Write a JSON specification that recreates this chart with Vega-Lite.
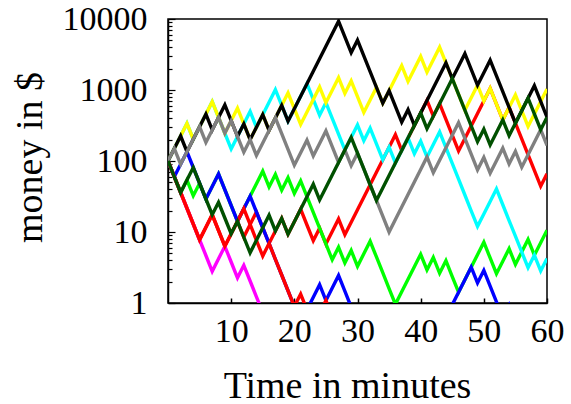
{
  "$schema": "https://vega.github.io/schema/vega-lite/v6.json",
  "width": 379,
  "height": 284,
  "autosize": {"type": "none"},
  "padding": {"left": 168, "top": 19, "right": 24, "bottom": 101},
  "background": "white",
  "config": {
    "view": {"stroke": "black", "strokeWidth": 1.5},
    "font": "Liberation Serif",
    "axis": {"grid": false, "domainColor": "black", "tickColor": "black", "labelColor": "black", "titleColor": "black", "labelFont": "Liberation Serif", "titleFont": "Liberation Serif", "labelFontSize": 34, "titleFontSize": 38, "titleFontWeight": "normal", "labelFlush": false, "labelOverlap": false}
  },
  "data": {"values": [
    {"s":"r2","t":0,"v":100},{"s":"r2","t":1,"v":60},{"s":"r2","t":2,"v":36},{"s":"r2","t":3,"v":21.6},{"s":"r2","t":4,"v":12.96},{"s":"r2","t":5,"v":7.776},{"s":"r2","t":6,"v":11.66},{"s":"r2","t":7,"v":17.5},{"s":"r2","t":8,"v":10.5},{"s":"r2","t":9,"v":6.3},{"s":"r2","t":10,"v":9.45},{"s":"r2","t":11,"v":14.17},{"s":"r2","t":12,"v":8.5},{"s":"r2","t":13,"v":12.76},{"s":"r2","t":14,"v":19.13},{"s":"r2","t":15,"v":11.48},{"s":"r2","t":16,"v":6.89},{"s":"r2","t":17,"v":10.33},{"s":"r2","t":18,"v":15.5},{"s":"r2","t":19,"v":9.3},{"s":"r2","t":20,"v":13.95},{"s":"r2","t":21,"v":20.92},{"s":"r2","t":22,"v":12.55},{"s":"r2","t":23,"v":7.53},{"s":"r2","t":24,"v":11.3},{"s":"r2","t":25,"v":6.78},{"s":"r2","t":26,"v":10.17},{"s":"r2","t":27,"v":15.25},{"s":"r2","t":28,"v":9.15},{"s":"r2","t":29,"v":13.73},{"s":"r2","t":30,"v":20.59},{"s":"r2","t":31,"v":30.89},{"s":"r2","t":32,"v":46.33},{"s":"r2","t":33,"v":69.5},{"s":"r2","t":34,"v":104.2},{"s":"r2","t":35,"v":156.4},{"s":"r2","t":36,"v":234.6},{"s":"r2","t":37,"v":140.7},{"s":"r2","t":38,"v":211.1},{"s":"r2","t":39,"v":316.7},{"s":"r2","t":40,"v":475},{"s":"r2","t":41,"v":712.5},{"s":"r2","t":42,"v":427.5},{"s":"r2","t":43,"v":641.2},{"s":"r2","t":44,"v":384.7},{"s":"r2","t":45,"v":230.8},{"s":"r2","t":46,"v":138.5},{"s":"r2","t":47,"v":207.8},{"s":"r2","t":48,"v":311.7},{"s":"r2","t":49,"v":467.5},{"s":"r2","t":50,"v":701.2},{"s":"r2","t":51,"v":1051.8},{"s":"r2","t":52,"v":631.1},{"s":"r2","t":53,"v":378.7},{"s":"r2","t":54,"v":568},{"s":"r2","t":55,"v":340.8},{"s":"r2","t":56,"v":204.5},{"s":"r2","t":57,"v":122.7},{"s":"r2","t":58,"v":73.6},{"s":"r2","t":59,"v":44.2},{"s":"r2","t":60,"v":66.3},
    {"s":"g","t":0,"v":100},{"s":"g","t":1,"v":60},{"s":"g","t":2,"v":36},{"s":"g","t":3,"v":54},{"s":"g","t":4,"v":32.4},{"s":"g","t":5,"v":48.6},{"s":"g","t":6,"v":29.16},{"s":"g","t":7,"v":43.74},{"s":"g","t":8,"v":65.61},{"s":"g","t":9,"v":39.37},{"s":"g","t":10,"v":23.62},{"s":"g","t":11,"v":14.17},{"s":"g","t":12,"v":21.26},{"s":"g","t":13,"v":31.89},{"s":"g","t":14,"v":47.83},{"s":"g","t":15,"v":71.75},{"s":"g","t":16,"v":43.05},{"s":"g","t":17,"v":64.57},{"s":"g","t":18,"v":38.74},{"s":"g","t":19,"v":58.12},{"s":"g","t":20,"v":34.87},{"s":"g","t":21,"v":52.3},{"s":"g","t":22,"v":31.38},{"s":"g","t":23,"v":18.83},{"s":"g","t":24,"v":11.3},{"s":"g","t":25,"v":6.78},{"s":"g","t":26,"v":4.07},{"s":"g","t":27,"v":6.1},{"s":"g","t":28,"v":3.66},{"s":"g","t":29,"v":5.49},{"s":"g","t":30,"v":3.29},{"s":"g","t":31,"v":4.94},{"s":"g","t":32,"v":7.41},{"s":"g","t":33,"v":4.45},{"s":"g","t":34,"v":2.67},{"s":"g","t":35,"v":1.6},{"s":"g","t":36,"v":0.96},{"s":"g","t":37,"v":1.44},{"s":"g","t":38,"v":2.16},{"s":"g","t":39,"v":3.24},{"s":"g","t":40,"v":4.86},{"s":"g","t":41,"v":2.92},{"s":"g","t":42,"v":4.38},{"s":"g","t":43,"v":2.63},{"s":"g","t":44,"v":3.94},{"s":"g","t":45,"v":2.36},{"s":"g","t":46,"v":1.42},{"s":"g","t":47,"v":2.13},{"s":"g","t":48,"v":3.19},{"s":"g","t":49,"v":4.79},{"s":"g","t":50,"v":7.18},{"s":"g","t":51,"v":4.31},{"s":"g","t":52,"v":2.59},{"s":"g","t":53,"v":3.88},{"s":"g","t":54,"v":5.82},{"s":"g","t":55,"v":3.49},{"s":"g","t":56,"v":5.24},{"s":"g","t":57,"v":7.86},{"s":"g","t":58,"v":4.72},{"s":"g","t":59,"v":7.07},{"s":"g","t":60,"v":10.61},
    {"s":"b","t":0,"v":100},{"s":"b","t":1,"v":60},{"s":"b","t":2,"v":90},{"s":"b","t":3,"v":135},{"s":"b","t":4,"v":81},{"s":"b","t":5,"v":48.6},{"s":"b","t":6,"v":29.16},{"s":"b","t":7,"v":43.74},{"s":"b","t":8,"v":65.61},{"s":"b","t":9,"v":39.37},{"s":"b","t":10,"v":23.62},{"s":"b","t":11,"v":14.17},{"s":"b","t":12,"v":21.26},{"s":"b","t":13,"v":31.89},{"s":"b","t":14,"v":19.13},{"s":"b","t":15,"v":11.48},{"s":"b","t":16,"v":6.89},{"s":"b","t":17,"v":4.13},{"s":"b","t":18,"v":2.48},{"s":"b","t":19,"v":1.488},{"s":"b","t":20,"v":0.893},{"s":"b","t":21,"v":0.536},{"s":"b","t":22,"v":0.804},{"s":"b","t":23,"v":1.205},{"s":"b","t":24,"v":1.808},{"s":"b","t":25,"v":1.085},{"s":"b","t":26,"v":1.628},{"s":"b","t":27,"v":2.441},{"s":"b","t":28,"v":1.465},{"s":"b","t":29,"v":0.879},{"s":"b","t":30,"v":0.527},{"s":"b","t":31,"v":0.316},{"s":"b","t":32,"v":0.475},{"s":"b","t":33,"v":0.285},{"s":"b","t":34,"v":0.427},{"s":"b","t":35,"v":0.641},{"s":"b","t":36,"v":0.385},{"s":"b","t":37,"v":0.577},{"s":"b","t":38,"v":0.865},{"s":"b","t":39,"v":0.519},{"s":"b","t":40,"v":0.779},{"s":"b","t":41,"v":0.467},{"s":"b","t":42,"v":0.701},{"s":"b","t":43,"v":0.42},{"s":"b","t":44,"v":0.631},{"s":"b","t":45,"v":0.946},{"s":"b","t":46,"v":1.419},{"s":"b","t":47,"v":2.129},{"s":"b","t":48,"v":3.193},{"s":"b","t":49,"v":1.916},{"s":"b","t":50,"v":2.874},{"s":"b","t":51,"v":1.724},{"s":"b","t":52,"v":1.035},{"s":"b","t":53,"v":0.621},{"s":"b","t":54,"v":0.931},{"s":"b","t":55,"v":0.559},{"s":"b","t":56,"v":0.838},{"s":"b","t":57,"v":0.503},{"s":"b","t":58,"v":0.302},{"s":"b","t":59,"v":0.453},{"s":"b","t":60,"v":0.272},
    {"s":"m","t":0,"v":100},{"s":"m","t":1,"v":60},{"s":"m","t":2,"v":36},{"s":"m","t":3,"v":21.6},{"s":"m","t":4,"v":12.96},{"s":"m","t":5,"v":7.776},{"s":"m","t":6,"v":4.666},{"s":"m","t":7,"v":2.799},{"s":"m","t":8,"v":4.199},{"s":"m","t":9,"v":6.298},{"s":"m","t":10,"v":3.779},{"s":"m","t":11,"v":2.267},{"s":"m","t":12,"v":3.401},{"s":"m","t":13,"v":2.041},{"s":"m","t":14,"v":1.224},{"s":"m","t":15,"v":0.735},{"s":"m","t":16,"v":0.441},
    {"s":"c","t":0,"v":100},{"s":"c","t":1,"v":150},{"s":"c","t":2,"v":225},{"s":"c","t":3,"v":337.5},{"s":"c","t":4,"v":202.5},{"s":"c","t":5,"v":303.75},{"s":"c","t":6,"v":455.6},{"s":"c","t":7,"v":683.4},{"s":"c","t":8,"v":410.1},{"s":"c","t":9,"v":246},{"s":"c","t":10,"v":147.6},{"s":"c","t":11,"v":221.4},{"s":"c","t":12,"v":332.2},{"s":"c","t":13,"v":498.2},{"s":"c","t":14,"v":298.9},{"s":"c","t":15,"v":448.4},{"s":"c","t":16,"v":672.6},{"s":"c","t":17,"v":1008.9},{"s":"c","t":18,"v":605.3},{"s":"c","t":19,"v":363.2},{"s":"c","t":20,"v":544.8},{"s":"c","t":21,"v":817.2},{"s":"c","t":22,"v":1225.7},{"s":"c","t":23,"v":735.4},{"s":"c","t":24,"v":441.3},{"s":"c","t":25,"v":661.9},{"s":"c","t":26,"v":397.1},{"s":"c","t":27,"v":238.3},{"s":"c","t":28,"v":143},{"s":"c","t":29,"v":214.5},{"s":"c","t":30,"v":321.7},{"s":"c","t":31,"v":193},{"s":"c","t":32,"v":289.6},{"s":"c","t":33,"v":173.7},{"s":"c","t":34,"v":104.2},{"s":"c","t":35,"v":156.4},{"s":"c","t":36,"v":93.8},{"s":"c","t":37,"v":140.7},{"s":"c","t":38,"v":211.1},{"s":"c","t":39,"v":126.7},{"s":"c","t":40,"v":190},{"s":"c","t":41,"v":114},{"s":"c","t":42,"v":171},{"s":"c","t":43,"v":256.5},{"s":"c","t":44,"v":153.9},{"s":"c","t":45,"v":92.3},{"s":"c","t":46,"v":55.4},{"s":"c","t":47,"v":33.2},{"s":"c","t":48,"v":19.9},{"s":"c","t":49,"v":12},{"s":"c","t":50,"v":17.9},{"s":"c","t":51,"v":26.9},{"s":"c","t":52,"v":40.4},{"s":"c","t":53,"v":24.2},{"s":"c","t":54,"v":14.5},{"s":"c","t":55,"v":8.72},{"s":"c","t":56,"v":5.23},{"s":"c","t":57,"v":3.14},{"s":"c","t":58,"v":4.71},{"s":"c","t":59,"v":2.83},{"s":"c","t":60,"v":4.24},
    {"s":"y","t":0,"v":100},{"s":"y","t":1,"v":150},{"s":"y","t":2,"v":225},{"s":"y","t":3,"v":337.5},{"s":"y","t":4,"v":202.5},{"s":"y","t":5,"v":303.75},{"s":"y","t":6,"v":455.6},{"s":"y","t":7,"v":683.4},{"s":"y","t":8,"v":410.1},{"s":"y","t":9,"v":246},{"s":"y","t":10,"v":369.1},{"s":"y","t":11,"v":553.6},{"s":"y","t":12,"v":332.2},{"s":"y","t":13,"v":199.3},{"s":"y","t":14,"v":298.9},{"s":"y","t":15,"v":448.4},{"s":"y","t":16,"v":269},{"s":"y","t":17,"v":403.5},{"s":"y","t":18,"v":605.3},{"s":"y","t":19,"v":907.9},{"s":"y","t":20,"v":544.8},{"s":"y","t":21,"v":326.9},{"s":"y","t":22,"v":490.3},{"s":"y","t":23,"v":735.4},{"s":"y","t":24,"v":1103.2},{"s":"y","t":25,"v":661.9},{"s":"y","t":26,"v":992.8},{"s":"y","t":27,"v":1489.2},{"s":"y","t":28,"v":893.5},{"s":"y","t":29,"v":1340.3},{"s":"y","t":30,"v":804.2},{"s":"y","t":31,"v":482.5},{"s":"y","t":32,"v":723.7},{"s":"y","t":33,"v":1085.6},{"s":"y","t":34,"v":651.4},{"s":"y","t":35,"v":977.1},{"s":"y","t":36,"v":1465.6},{"s":"y","t":37,"v":2198.4},{"s":"y","t":38,"v":1319},{"s":"y","t":39,"v":1978.6},{"s":"y","t":40,"v":2967.8},{"s":"y","t":41,"v":1780.7},{"s":"y","t":42,"v":2671.1},{"s":"y","t":43,"v":4006.6},{"s":"y","t":44,"v":2404},{"s":"y","t":45,"v":1442.4},{"s":"y","t":46,"v":865.4},{"s":"y","t":47,"v":519.3},{"s":"y","t":48,"v":778.9},{"s":"y","t":49,"v":1168.4},{"s":"y","t":50,"v":701},{"s":"y","t":51,"v":1051.5},{"s":"y","t":52,"v":630.9},{"s":"y","t":53,"v":378.6},{"s":"y","t":54,"v":567.8},{"s":"y","t":55,"v":851.8},{"s":"y","t":56,"v":511.1},{"s":"y","t":57,"v":306.6},{"s":"y","t":58,"v":459.9},{"s":"y","t":59,"v":689.9},{"s":"y","t":60,"v":1034.9},
    {"s":"k","t":0,"v":100},{"s":"k","t":1,"v":150},{"s":"k","t":2,"v":225},{"s":"k","t":3,"v":135},{"s":"k","t":4,"v":202.5},{"s":"k","t":5,"v":303.75},{"s":"k","t":6,"v":455.6},{"s":"k","t":7,"v":273.4},{"s":"k","t":8,"v":410.1},{"s":"k","t":9,"v":615.1},{"s":"k","t":10,"v":369.1},{"s":"k","t":11,"v":221.4},{"s":"k","t":12,"v":332.2},{"s":"k","t":13,"v":199.3},{"s":"k","t":14,"v":298.9},{"s":"k","t":15,"v":448.4},{"s":"k","t":16,"v":269},{"s":"k","t":17,"v":403.5},{"s":"k","t":18,"v":605.3},{"s":"k","t":19,"v":363.2},{"s":"k","t":20,"v":544.8},{"s":"k","t":21,"v":817.2},{"s":"k","t":22,"v":1225.7},{"s":"k","t":23,"v":1838.6},{"s":"k","t":24,"v":2757.9},{"s":"k","t":25,"v":4136.9},{"s":"k","t":26,"v":6205.3},{"s":"k","t":27,"v":9308},{"s":"k","t":28,"v":5584.8},{"s":"k","t":29,"v":3350.9},{"s":"k","t":30,"v":5026.3},{"s":"k","t":31,"v":3015.8},{"s":"k","t":32,"v":1809.5},{"s":"k","t":33,"v":1085.7},{"s":"k","t":34,"v":651.4},{"s":"k","t":35,"v":977.1},{"s":"k","t":36,"v":586.3},{"s":"k","t":37,"v":351.8},{"s":"k","t":38,"v":527.6},{"s":"k","t":39,"v":316.6},{"s":"k","t":40,"v":474.9},{"s":"k","t":41,"v":712.3},{"s":"k","t":42,"v":1068.5},{"s":"k","t":43,"v":1602.7},{"s":"k","t":44,"v":2404.1},{"s":"k","t":45,"v":1442.5},{"s":"k","t":46,"v":2163.7},{"s":"k","t":47,"v":3245.5},{"s":"k","t":48,"v":1947.3},{"s":"k","t":49,"v":1168.4},{"s":"k","t":50,"v":1752.6},{"s":"k","t":51,"v":2628.9},{"s":"k","t":52,"v":1577.3},{"s":"k","t":53,"v":946.4},{"s":"k","t":54,"v":567.8},{"s":"k","t":55,"v":340.7},{"s":"k","t":56,"v":511.1},{"s":"k","t":57,"v":766.6},{"s":"k","t":58,"v":1149.9},{"s":"k","t":59,"v":689.9},{"s":"k","t":60,"v":414},
    {"s":"r1","t":0,"v":100},{"s":"r1","t":1,"v":60},{"s":"r1","t":2,"v":36},{"s":"r1","t":3,"v":21.6},{"s":"r1","t":4,"v":12.96},{"s":"r1","t":5,"v":7.776},{"s":"r1","t":6,"v":11.66},{"s":"r1","t":7,"v":17.5},{"s":"r1","t":8,"v":10.5},{"s":"r1","t":9,"v":6.3},{"s":"r1","t":10,"v":9.45},{"s":"r1","t":11,"v":14.17},{"s":"r1","t":12,"v":21.26},{"s":"r1","t":13,"v":12.76},{"s":"r1","t":14,"v":7.65},{"s":"r1","t":15,"v":4.59},{"s":"r1","t":16,"v":6.89},{"s":"r1","t":17,"v":4.13},{"s":"r1","t":18,"v":2.48},{"s":"r1","t":19,"v":1.488},{"s":"r1","t":20,"v":0.893},{"s":"r1","t":21,"v":1.339},{"s":"r1","t":22,"v":0.804},{"s":"r1","t":23,"v":0.482},{"s":"r1","t":24,"v":0.723},{"s":"r1","t":25,"v":1.085},{"s":"r1","t":26,"v":0.651},{"s":"r1","t":27,"v":0.391},
    {"s":"a","t":0,"v":100},{"s":"a","t":1,"v":150},{"s":"a","t":2,"v":90},{"s":"a","t":3,"v":135},{"s":"a","t":4,"v":202.5},{"s":"a","t":5,"v":303.75},{"s":"a","t":6,"v":182.25},{"s":"a","t":7,"v":273.4},{"s":"a","t":8,"v":410.1},{"s":"a","t":9,"v":246},{"s":"a","t":10,"v":369.1},{"s":"a","t":11,"v":221.4},{"s":"a","t":12,"v":132.9},{"s":"a","t":13,"v":199.3},{"s":"a","t":14,"v":119.6},{"s":"a","t":15,"v":179.4},{"s":"a","t":16,"v":269},{"s":"a","t":17,"v":403.5},{"s":"a","t":18,"v":242.1},{"s":"a","t":19,"v":145.3},{"s":"a","t":20,"v":87.2},{"s":"a","t":21,"v":130.7},{"s":"a","t":22,"v":196.1},{"s":"a","t":23,"v":117.7},{"s":"a","t":24,"v":176.5},{"s":"a","t":25,"v":264.8},{"s":"a","t":26,"v":158.9},{"s":"a","t":27,"v":95.3},{"s":"a","t":28,"v":143},{"s":"a","t":29,"v":85.8},{"s":"a","t":30,"v":128.7},{"s":"a","t":31,"v":77.2},{"s":"a","t":32,"v":46.3},{"s":"a","t":33,"v":27.8},{"s":"a","t":34,"v":16.7},{"s":"a","t":35,"v":10},{"s":"a","t":36,"v":15},{"s":"a","t":37,"v":22.5},{"s":"a","t":38,"v":33.8},{"s":"a","t":39,"v":50.7},{"s":"a","t":40,"v":76},{"s":"a","t":41,"v":114},{"s":"a","t":42,"v":68.4},{"s":"a","t":43,"v":102.6},{"s":"a","t":44,"v":153.9},{"s":"a","t":45,"v":230.9},{"s":"a","t":46,"v":346.4},{"s":"a","t":47,"v":207.8},{"s":"a","t":48,"v":124.7},{"s":"a","t":49,"v":74.8},{"s":"a","t":50,"v":112.2},{"s":"a","t":51,"v":67.3},{"s":"a","t":52,"v":101},{"s":"a","t":53,"v":151.5},{"s":"a","t":54,"v":90.9},{"s":"a","t":55,"v":136.3},{"s":"a","t":56,"v":81.8},{"s":"a","t":57,"v":122.7},{"s":"a","t":58,"v":184.1},{"s":"a","t":59,"v":276.1},{"s":"a","t":60,"v":165.7},
    {"s":"d","t":0,"v":100},{"s":"d","t":1,"v":60},{"s":"d","t":2,"v":36},{"s":"d","t":3,"v":54},{"s":"d","t":4,"v":81},{"s":"d","t":5,"v":48.6},{"s":"d","t":6,"v":29.16},{"s":"d","t":7,"v":17.5},{"s":"d","t":8,"v":26.24},{"s":"d","t":9,"v":15.75},{"s":"d","t":10,"v":9.45},{"s":"d","t":11,"v":14.17},{"s":"d","t":12,"v":8.5},{"s":"d","t":13,"v":5.1},{"s":"d","t":14,"v":7.65},{"s":"d","t":15,"v":11.48},{"s":"d","t":16,"v":17.22},{"s":"d","t":17,"v":10.33},{"s":"d","t":18,"v":15.5},{"s":"d","t":19,"v":9.3},{"s":"d","t":20,"v":13.95},{"s":"d","t":21,"v":20.92},{"s":"d","t":22,"v":31.38},{"s":"d","t":23,"v":47.07},{"s":"d","t":24,"v":28.24},{"s":"d","t":25,"v":42.37},{"s":"d","t":26,"v":63.55},{"s":"d","t":27,"v":95.32},{"s":"d","t":28,"v":143},{"s":"d","t":29,"v":214.5},{"s":"d","t":30,"v":128.7},{"s":"d","t":31,"v":77.2},{"s":"d","t":32,"v":46.3},{"s":"d","t":33,"v":27.8},{"s":"d","t":34,"v":41.7},{"s":"d","t":35,"v":62.6},{"s":"d","t":36,"v":93.8},{"s":"d","t":37,"v":140.7},{"s":"d","t":38,"v":211.1},{"s":"d","t":39,"v":316.7},{"s":"d","t":40,"v":475},{"s":"d","t":41,"v":285},{"s":"d","t":42,"v":427.5},{"s":"d","t":43,"v":641.2},{"s":"d","t":44,"v":961.8},{"s":"d","t":45,"v":1442.7},{"s":"d","t":46,"v":865.6},{"s":"d","t":47,"v":519.4},{"s":"d","t":48,"v":311.6},{"s":"d","t":49,"v":187},{"s":"d","t":50,"v":280.5},{"s":"d","t":51,"v":168.3},{"s":"d","t":52,"v":252.4},{"s":"d","t":53,"v":378.6},{"s":"d","t":54,"v":227.2},{"s":"d","t":55,"v":340.8},{"s":"d","t":56,"v":511.2},{"s":"d","t":57,"v":766.8},{"s":"d","t":58,"v":460.1},{"s":"d","t":59,"v":276},{"s":"d","t":60,"v":414.1}
  ]},
  "encoding": {
    "x": {"field": "t", "type": "quantitative", "scale": {"domain": [0, 60], "nice": false, "zero": false},
      "axis": {"values": [10, 20, 30, 40, 50, 60], "tickSize": -5, "labelPadding": 16, "title": "Time in minutes", "titleX": 179, "titleY": 94, "titleBaseline": "alphabetic", "domainWidth": 1.5, "tickWidth": 1.5}},
    "y": {"field": "v", "type": "quantitative", "scale": {"type": "log", "domain": [1, 10000], "nice": false},
      "axis": {"values": [1, 2, 3, 4, 5, 6, 7, 8, 9, 10, 20, 30, 40, 50, 60, 70, 80, 90, 100, 200, 300, 400, 500, 600, 700, 800, 900, 1000, 2000, 3000, 4000, 5000, 6000, 7000, 8000, 9000, 10000],
        "format": "d",
        "labelExpr": "abs(log(datum.value)/LN10 - round(log(datum.value)/LN10)) < 0.001 ? datum.label : ''",
        "tickSize": {"condition": {"test": "abs(log(datum.value)/LN10 - round(log(datum.value)/LN10)) < 0.001", "value": -7}, "value": -4},
        "labelPadding": 28, "labelBaseline": "middle", "title": "money in $", "titleX": -138, "titleY": 138, "titleBaseline": "middle", "titleAngle": -90, "domainWidth": 1.5, "tickWidth": 1.2}}
  },
  "layer": [
    {"transform": [{"filter": "datum.s === 'r2'"}], "mark": {"type": "line", "color": "#ff0000", "strokeWidth": 3.4, "clip": true}},
    {"transform": [{"filter": "datum.s === 'g'"}], "mark": {"type": "line", "color": "#00ff00", "strokeWidth": 3.4, "clip": true}},
    {"transform": [{"filter": "datum.s === 'b'"}], "mark": {"type": "line", "color": "#0000ff", "strokeWidth": 3.4, "clip": true}},
    {"transform": [{"filter": "datum.s === 'm'"}], "mark": {"type": "line", "color": "#ff00ff", "strokeWidth": 3.4, "clip": true}},
    {"transform": [{"filter": "datum.s === 'c'"}], "mark": {"type": "line", "color": "#00ffff", "strokeWidth": 3.4, "clip": true}},
    {"transform": [{"filter": "datum.s === 'y'"}], "mark": {"type": "line", "color": "#ffff00", "strokeWidth": 3.4, "clip": true}},
    {"transform": [{"filter": "datum.s === 'k'"}], "mark": {"type": "line", "color": "#000000", "strokeWidth": 3.4, "clip": true}},
    {"transform": [{"filter": "datum.s === 'r1'"}], "mark": {"type": "line", "color": "#ff0000", "strokeWidth": 3.4, "clip": true}},
    {"transform": [{"filter": "datum.s === 'a'"}], "mark": {"type": "line", "color": "#808080", "strokeWidth": 3.4, "clip": true}},
    {"transform": [{"filter": "datum.s === 'd'"}], "mark": {"type": "line", "color": "#005000", "strokeWidth": 3.4, "clip": true}}
  ]
}
